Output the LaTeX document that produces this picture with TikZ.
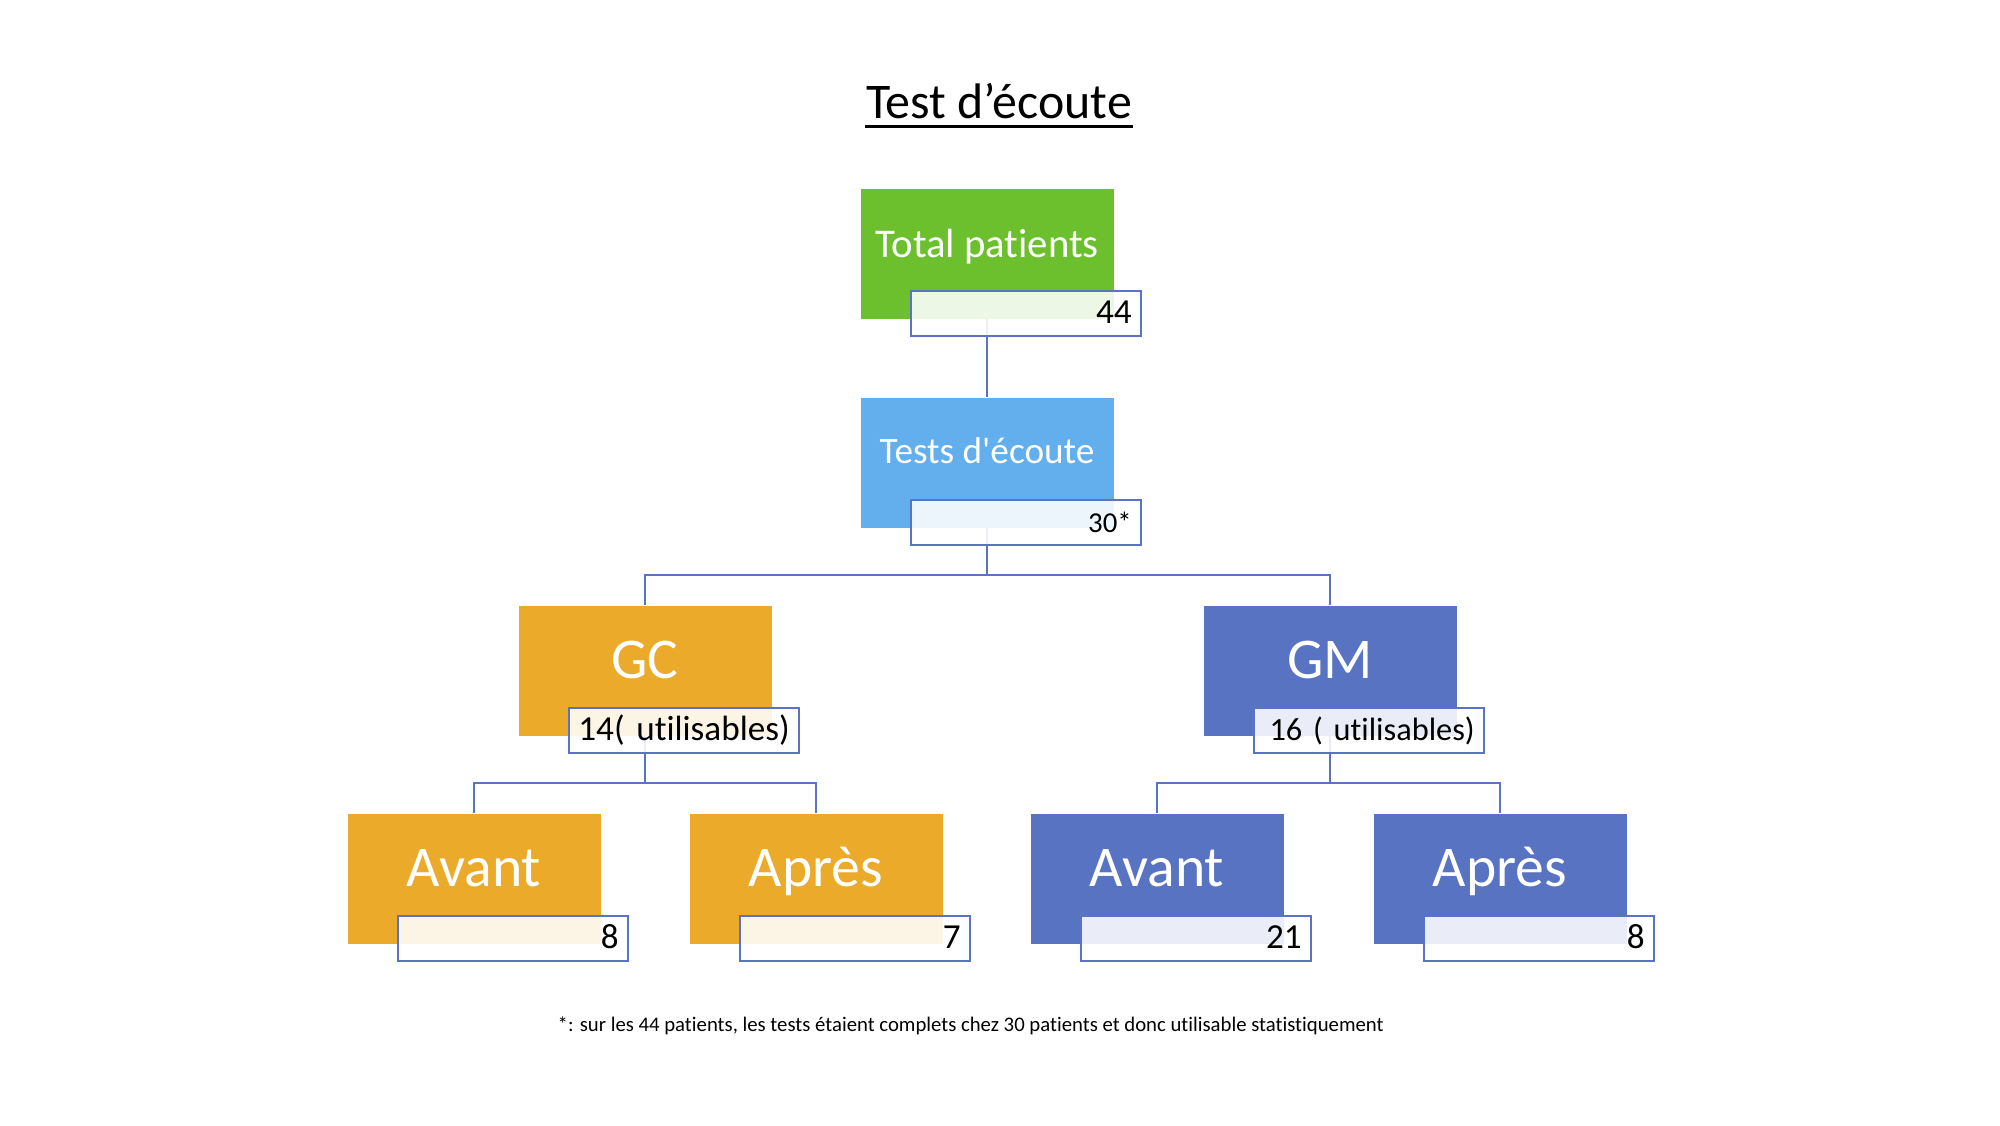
\documentclass[tikz,border=0pt]{standalone}
\usepackage{fontspec}
\setmainfont{Carlito}[Ligatures={TeX,NoCommon}]
\usetikzlibrary{calc}
\definecolor{totgreen}{HTML}{6CC02E}
\definecolor{testblue}{HTML}{63AEEC}
\definecolor{gcorange}{HTML}{EBAA2A}
\definecolor{gmblue}{HTML}{5773C1}
\definecolor{linecol}{HTML}{5A74C2}
\tikzset{
 box/.style={fill=#1, minimum width=2.53cm, minimum height=1.3cm, inner sep=0, anchor=north},
 boxtext/.style={anchor=base, text=white, inner sep=0},
 numbox/.style={draw=linecol, line width=0.02cm, fill=white, fill opacity=0.88, text opacity=1,
  minimum width=2.3cm, minimum height=0.45cm, text width=2.12cm, align=right,
  inner xsep=0.09cm, inner ysep=0, text height=0.25cm, text depth=0.06cm,
  anchor=north west, font=\fontsize{10}{12}\selectfont},
 conn/.style={draw=linecol, line width=0.02cm},
}

\begin{document}
\begin{tikzpicture}
\useasboundingbox (0,0) rectangle (20,-11.25);
% title
\node[anchor=base, inner sep=0, font=\fontsize{14.2}{17}\selectfont] (title) at (9.99,-1.18) {Test d’écoute};
\draw[line width=0.03cm] ($(title.base west)+(0,-0.08)$) -- ($(title.base east)+(0,-0.08)$);
% boxes
\foreach \n/\x/\y/\c in {tot/9.87/-1.88/totgreen, test/9.87/-3.97/testblue,
  gc/6.45/-6.05/gcorange, gm/13.30/-6.05/gmblue,
  gcav/4.74/-8.13/gcorange, gcap/8.16/-8.13/gcorange,
  gmav/11.57/-8.13/gmblue, gmap/15.00/-8.13/gmblue}
 \node[box=\c] (\n) at (\x,\y) {};
% box texts
\node[boxtext, font=\fontsize{11.6}{14}\selectfont] (tott) at ($(tot.north)+(0,-0.69)$) {Total patients};
\node[boxtext, font=\fontsize{10.6}{13}\selectfont] (testt) at ($(test.north)+(0,-0.66)$) {Tests d\textquotesingle écoute};
\foreach \n/\t in {gc/GC, gm/GM, gcav/Avant, gcap/Après, gmav/Avant, gmap/Après}
 \node[boxtext, font=\fontsize{16.4}{19}\selectfont] (\n t) at ($(\n.north)+(0,-0.735)$) {\t};
% connectors
\draw[conn] (tot.south) -- (test.north);
\foreach \a/\b in {test/gc, test/gm, gc/gcav, gc/gcap, gm/gmav, gm/gmap}
 \draw[conn] (\a.south) -- ++(0,-0.47) -| (\b.north);
% number boxes
\foreach \n/\v in {tot/44, gc/{14( utilisables)}, gcav/8, gcap/7, gmav/21, gmap/8}
 \node[numbox] (\n n) at ($(\n.south west)+(0.5,0.29)$) {\mbox{\v}};
\node[numbox, font=\fontsize{9.2}{11}\selectfont] (gmn) at ($(gm.south west)+(0.5,0.29)$) {\mbox{16 ( utilisables)}};
\node[numbox, font=\fontsize{8.2}{10}\selectfont] (testn) at ($(test.south west)+(0.5,0.29)$) {30*};
% footnote
\node[anchor=base west, inner sep=0, font=\fontsize{5.9}{7}\selectfont] (note) at (5.57,-10.31)
 {*: sur les 44 patients, les tests étaient complets chez 30 patients et donc utilisable statistiquement};
\end{tikzpicture}
\end{document}
